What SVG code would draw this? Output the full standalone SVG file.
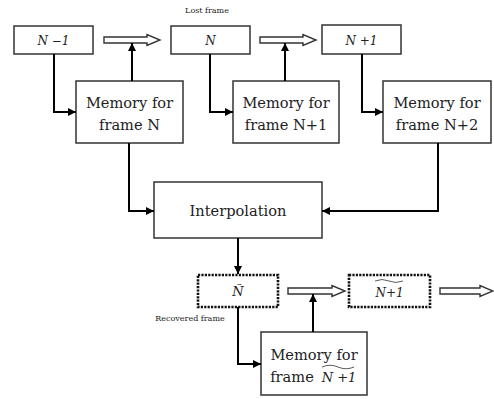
<svg xmlns="http://www.w3.org/2000/svg" width="494" height="399" viewBox="0 0 494 399">
<defs>
<style>
.box{fill:#fff;stroke:#333;stroke-width:1.5}
.dbox{fill:#fff;stroke:#111;stroke-width:2.6;stroke-dasharray:2.2 1.2}
.hollow{fill:#fff;stroke:#333;stroke-width:1.4}
.conn{fill:none;stroke:#000;stroke-width:2}
.t{font-family:'DejaVu Serif',serif;fill:#222;text-anchor:middle}
.big{font-size:14.6px}
.it{font-style:italic;font-size:12px}
.small{font-size:8px}
</style>
<marker id="ah" viewBox="0 0 10 10" refX="10" refY="5" markerWidth="4" markerHeight="4" orient="auto" markerUnits="strokeWidth">
<path d="M0,0 L10,5 L0,10 z" fill="#000"/>
</marker>
</defs>
<rect width="494" height="399" fill="#fff"/>

<g id="n-minus-1">
<rect class="box" x="14" y="26" width="79" height="28"/>
<text class="t it" x="53.5" y="44.5">N −1</text>
</g>
<g id="n-lost">
<text class="t small" x="207" y="13">Lost frame</text>
<rect class="box" x="171" y="26" width="79" height="28"/>
<text class="t it" x="210.5" y="44.5">N</text>
</g>
<g id="n-plus-1">
<rect class="box" x="322" y="25" width="79" height="29"/>
<text class="t it" x="361.5" y="44.5">N +1</text>
</g>
<g id="mem-n">
<rect class="box" x="76" y="81" width="107" height="62"/>
<text class="t big" x="129.5" y="108">Memory for</text>
<text class="t big" x="129.5" y="130">frame N</text>
</g>
<g id="mem-n1">
<rect class="box" x="233" y="81" width="106" height="62"/>
<text class="t big" x="286" y="108">Memory for</text>
<text class="t big" x="286" y="130">frame N+1</text>
</g>
<g id="mem-n2">
<rect class="box" x="383" y="81" width="108" height="62"/>
<text class="t big" x="437" y="108">Memory for</text>
<text class="t big" x="437" y="130">frame N+2</text>
</g>
<g id="interp">
<rect class="box" x="154" y="182" width="168" height="56"/>
<text class="t big" x="238" y="216">Interpolation</text>
</g>
<g id="n-recovered">
<rect class="dbox" x="198" y="275" width="80" height="32"/>
<text class="t it" x="238" y="296" style="font-size:13px">Ñ</text>
<text class="t small" x="190" y="321">Recovered frame</text>
</g>
<g id="n1-recovered">
<rect class="dbox" x="349" y="275" width="81" height="32"/>
<text class="t it" x="389.5" y="297">N+1</text>
<path d="M375,281 q7,-3 14,0 t14,0" fill="none" stroke="#333" stroke-width="0.8"/>
</g>
<g id="mem-n1-rec">
<rect class="box" x="261" y="332" width="106" height="63"/>
<text class="t big" x="314" y="360">Memory for</text>
<text class="t big" x="292" y="382">frame</text>
<text class="t" x="339" y="382" style="font-size:13px;font-style:italic">N +1</text>
<path d="M322,367 q8,-3.5 16,0 t16,0" fill="none" stroke="#333" stroke-width="0.8"/>
</g>

<g id="connectors">
<polygon class="hollow" points="104,37 147,37 147,34.5 160,40 147,45.5 147,43 104,43"/>
<polygon class="hollow" points="260,37 303,37 303,34.5 316,40 303,45.5 303,43 260,43"/>
<polygon class="hollow" points="288,288 332,288 332,285.5 345,291 332,296.5 332,294 288,294"/>
<polygon class="hollow" points="440,288 480,288 480,285.5 493,291 480,296.5 480,294 440,294"/>
<path class="conn" d="M54,54 V112 H76" marker-end="url(#ah)"/>
<path class="conn" d="M132,81 V43" marker-end="url(#ah)"/>
<path class="conn" d="M210,54 V112 H233" marker-end="url(#ah)"/>
<path class="conn" d="M285,81 V43" marker-end="url(#ah)"/>
<path class="conn" d="M362,54 V112 H383" marker-end="url(#ah)"/>
<path class="conn" d="M129,143 V211 H154" marker-end="url(#ah)"/>
<path class="conn" d="M438,143 V211 H322" marker-end="url(#ah)"/>
<path class="conn" d="M238,238 V274" marker-end="url(#ah)"/>
<path class="conn" d="M238,307 V364 H261" marker-end="url(#ah)"/>
<path class="conn" d="M313,332 V294" marker-end="url(#ah)"/>
</g>
</svg>
